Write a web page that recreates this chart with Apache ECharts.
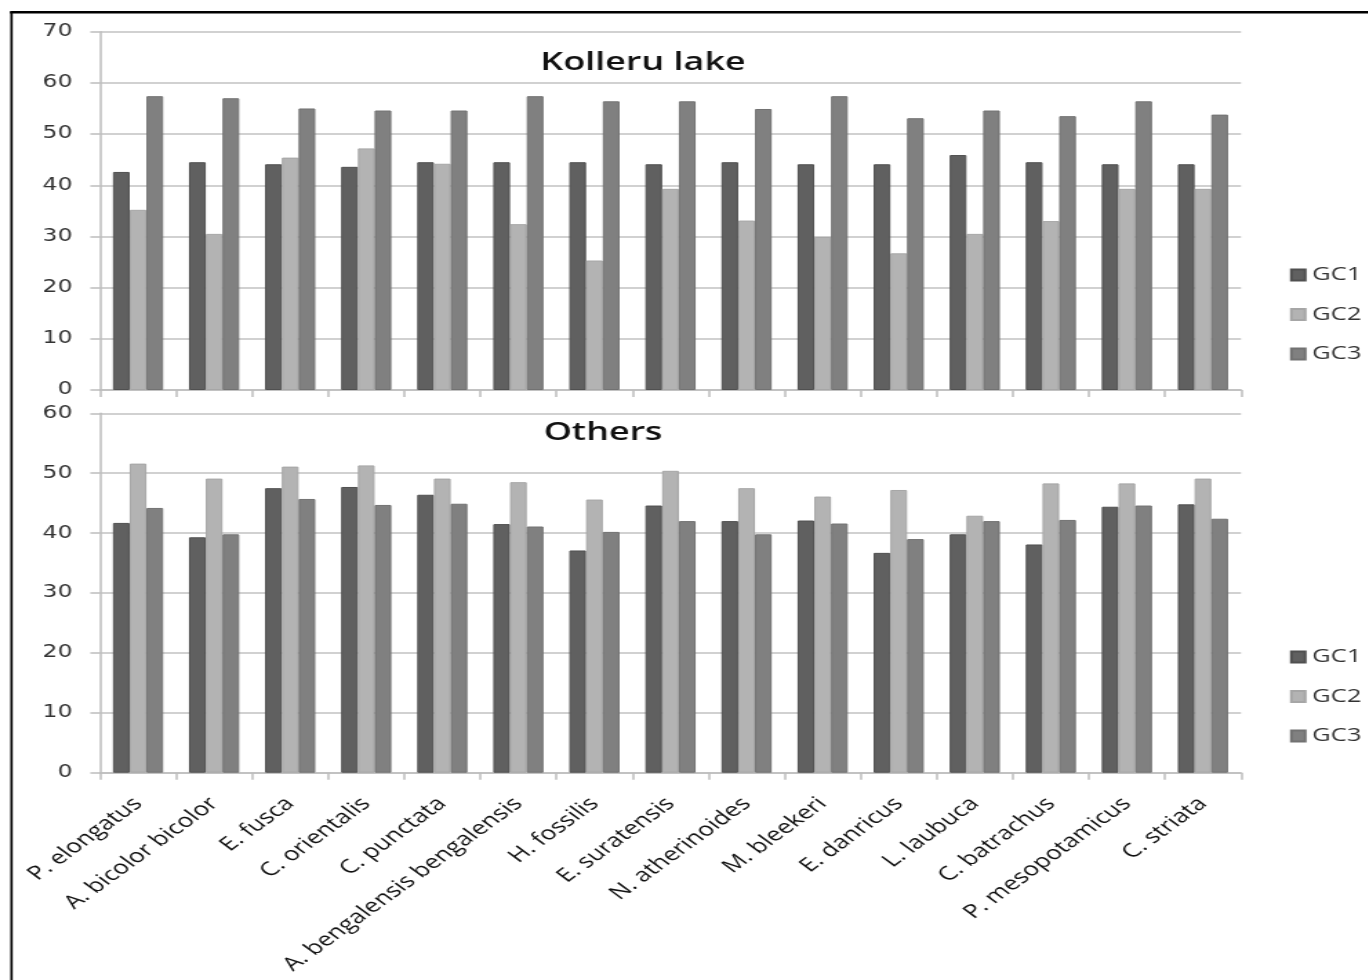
<!DOCTYPE html>
<html>
<head>
<meta charset="utf-8">
<title>GC1, GC2, GC3 by species</title>
<script src="https://cdn.jsdelivr.net/npm/echarts@6/dist/echarts.min.js"></script>
<style>
  html, body { margin: 0; padding: 0; background: #ffffff; overflow: hidden; }
  #frame { width: 1368px; height: 980px; overflow: hidden; position: relative; }
  #chart { position: absolute; left: 0; top: 0; height: 980px; transform-origin: 0 0; }
</style>
</head>
<body>
<div id="frame"><div id="chart"></div></div>
<script>
// Species on the shared category axis
const species = [
  'P. elongatus', 'A. bicolor bicolor', 'E. fusca', 'C. orientalis', 'C. punctata',
  'A. bengalensis bengalensis', 'H. fossilis', 'E. suratensis', 'N. atherinoides',
  'M. bleekeri', 'E. danricus', 'L. laubuca', 'C. batrachus', 'P. mesopotamicus', 'C. striata'
];
const seriesNames = ['GC1', 'GC2', 'GC3'];

// Kolleru lake
const kolleruGC1 = [42.6, 44.5, 44.1, 43.6, 44.5, 44.5, 44.5, 44.1, 44.5, 44.1, 44.1, 45.9, 44.5, 44.1, 44.1];
const kolleruGC2 = [35.2, 30.5, 45.4, 47.2, 44.2, 32.4, 25.3, 39.3, 33.1, 29.9, 26.7, 30.5, 33.0, 39.3, 39.3];
const kolleruGC3 = [57.4, 57.0, 55.0, 54.6, 54.6, 57.4, 56.4, 56.4, 54.9, 57.4, 53.1, 54.6, 53.5, 56.4, 53.8];

// Others
const othersGC1 = [41.7, 39.3, 47.5, 47.7, 46.4, 41.5, 37.1, 44.6, 42.0, 42.1, 36.7, 39.8, 38.1, 44.4, 44.8];
const othersGC2 = [51.6, 49.1, 51.1, 51.3, 49.1, 48.5, 45.6, 50.4, 47.5, 46.1, 47.2, 42.9, 48.3, 48.3, 49.1];
const othersGC3 = [44.2, 39.8, 45.7, 44.7, 44.9, 41.1, 40.2, 42.0, 39.8, 41.6, 39.0, 42.0, 42.2, 44.6, 42.4];

// Panel titles and value-axis ranges
const panelTitles = ['Kolleru lake', 'Others'];
const topAxisMax = 70;
const bottomAxisMax = 60;
const axisStep = 10;

// The figure is laid out on a horizontally widened page: the chart is drawn
// narrower and stretched back to full width with a CSS scale.
const SX = 1.38;
const PAGE_W = 1368;
const W = PAGE_W / SX;
const px = x => x / SX;

const chartEl = document.getElementById('chart');
chartEl.style.width = W + 'px';
chartEl.style.transform = 'scaleX(' + SX + ')';

const colors = ['#606060', '#b3b3b3', '#808080'];
const borders = ['#505050', '#a6a6a6', '#727272'];
const gridColor = '#c2c2c2';

function valueAxis(gridIndex, max) {
  return {
    type: 'value', gridIndex: gridIndex, min: 0, max: max, interval: axisStep,
    axisLine: { show: true, lineStyle: { color: '#bdbdbd', width: 1.5 } },
    axisTick: { show: true, length: 7, lineStyle: { color: '#bdbdbd', width: 1.5 } },
    axisLabel: { margin: 20, color: '#333333', fontFamily: 'DejaVu Sans', fontSize: 17 },
    splitLine: { show: true, lineStyle: { color: gridColor, width: 1.5 } }
  };
}

function categoryAxis(gridIndex, showLabels) {
  return {
    type: 'category', gridIndex: gridIndex, data: species,
    axisLine: { show: true, lineStyle: { color: '#bdbdbd', width: 1.5 } },
    axisTick: { show: true, interval: 0, length: 7, lineStyle: { color: '#bdbdbd', width: 1.5 } },
    axisLabel: showLabels ? {
      show: true, interval: 0, rotate: 45, margin: 28,
      color: '#111111', fontFamily: 'Open Sans', fontSize: 19
    } : { show: false, interval: 0 },
    splitLine: { show: false }
  };
}

function barSeries(name, idx, axisIndex, data) {
  return {
    type: 'bar', name: name, xAxisIndex: axisIndex, yAxisIndex: axisIndex, data: data,
    barGap: '0%', barCategoryGap: '34%',
    itemStyle: { color: colors[idx], borderColor: borders[idx], borderWidth: 1 },
    emphasis: { disabled: true }
  };
}

function legendBlock(top) {
  return {
    orient: 'vertical', left: px(1290), top: top, padding: 0,
    icon: 'rect', itemWidth: 10, itemHeight: 11, itemGap: 19.5,
    selectedMode: false,
    textStyle: { fontFamily: 'Open Sans', fontSize: 18.5, color: '#333333', lineHeight: 20 },
    data: seriesNames
  };
}

const chart = echarts.init(chartEl, null, { renderer: 'canvas' });

chart.setOption({
  animation: false,
  backgroundColor: '#ffffff',
  grid: [
    { left: px(100), top: 31.7, width: px(1141), height: 358.3, containLabel: false, outerBoundsMode: 'none' },
    { left: px(100), top: 413.3, width: px(1141), height: 359.4, containLabel: false, outerBoundsMode: 'none' }
  ],
  xAxis: [categoryAxis(0, false), categoryAxis(1, true)],
  yAxis: [valueAxis(0, topAxisMax), valueAxis(1, bottomAxisMax)],
  legend: [legendBlock(265), legendBlock(647)],
  series: [
    barSeries(seriesNames[0], 0, 0, kolleruGC1),
    barSeries(seriesNames[1], 1, 0, kolleruGC2),
    barSeries(seriesNames[2], 2, 0, kolleruGC3),
    barSeries(seriesNames[0], 0, 1, othersGC1),
    barSeries(seriesNames[1], 1, 1, othersGC2),
    barSeries(seriesNames[2], 2, 1, othersGC3)
  ],
  graphic: [
    {
      type: 'text', x: px(643), y: 63, silent: true,
      style: {
        text: panelTitles[0], align: 'center', verticalAlign: 'middle',
        fontFamily: 'Open Sans', fontWeight: 600, fontSize: 26, fill: '#111111'
      }
    },
    {
      type: 'text', x: px(603), y: 433, silent: true,
      style: {
        text: panelTitles[1], align: 'center', verticalAlign: 'middle',
        fontFamily: 'Open Sans', fontWeight: 600, fontSize: 26, fill: '#111111'
      }
    },
    // outer frame: left and top edges
    {
      type: 'line', silent: true,
      shape: { x1: px(11.5), y1: 12, x2: px(11.5), y2: 980 },
      style: { stroke: '#000000', lineWidth: 1.7 }
    },
    {
      type: 'line', silent: true,
      shape: { x1: px(10), y1: 12.3, x2: W, y2: 12.3 },
      style: { stroke: '#000000', lineWidth: 2.4 }
    }
  ]
});
</script>
</body>
</html>
